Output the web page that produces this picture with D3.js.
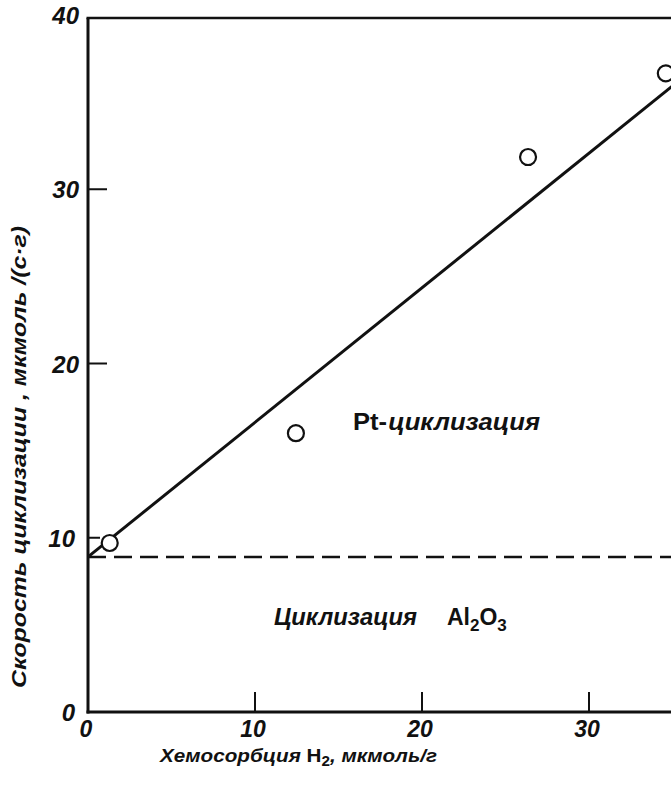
<!DOCTYPE html>
<html>
<head>
<meta charset="utf-8">
<script src="https://cdn.jsdelivr.net/npm/d3@7"></script>
<style>
  html, body { margin: 0; padding: 0; background: #fff; }
  svg { display: block; }
  text { font-family: "Liberation Sans", Arial, sans-serif; fill: #111; }
</style>
</head>
<body>
<svg id="chart" width="671" height="785"></svg>
<script>
// Data
const pointsX = [1.3, 12.45, 26.35, 34.6];
const pointsY = [9.7, 16.0, 31.85, 36.65];
const fitX = [0, 36];
const fitY = [8.9, 36.7];
const al2o3Level = 8.9;
const xTicks = [0, 10, 20, 30];
const yTicks = [0, 10, 20, 30, 40];

const svg = d3.select("#chart");
const W = 671, H = 785;
const x = d3.scaleLinear().domain([0, 10]).range([88, 255]);
const y = d3.scaleLinear().domain([0, 40]).range([712, 15]);
const ink = "#111";

svg.append("defs").append("clipPath").attr("id", "plot")
  .append("rect").attr("x", 88).attr("y", 0).attr("width", W - 88).attr("height", 712);

// axes lines
svg.append("line").attr("x1", x(0)).attr("x2", x(0)).attr("y1", 18).attr("y2", y(0) + 1.5)
  .attr("stroke", ink).attr("stroke-width", 3);
svg.append("line").attr("x1", x(0) - 1.5).attr("x2", W).attr("y1", y(0)).attr("y2", y(0))
  .attr("stroke", ink).attr("stroke-width", 3);
svg.append("line").attr("x1", x(0) - 1.5).attr("x2", W).attr("y1", 18).attr("y2", 18)
  .attr("stroke", ink).attr("stroke-width", 2.5);

// x ticks (inward)
svg.selectAll(".xt").data(xTicks.filter(d => d > 0)).enter().append("line")
  .attr("x1", d => x(d)).attr("x2", d => x(d)).attr("y1", y(0)).attr("y2", y(0) - 20)
  .attr("stroke", ink).attr("stroke-width", 2);
svg.selectAll(".xl").data(xTicks).enter().append("text")
  .attr("x", d => x(d) - 2).attr("y", y(0) + 25)
  .attr("text-anchor", "middle").attr("font-size", 23).attr("font-weight", "bold").attr("font-style", "italic")
  .text(d => d);

// y ticks (inward)
svg.selectAll(".yt").data(yTicks.filter(d => d > 0 && d < 40)).enter().append("line")
  .attr("x1", x(0)).attr("x2", d => d === 10 ? x(0) + 12 : x(0) + 19)
  .attr("y1", d => y(d)).attr("y2", d => y(d))
  .attr("stroke", ink).attr("stroke-width", 2);
svg.selectAll(".yl").data(yTicks).enter().append("text")
  .attr("x", d => (d === 0 || d === 10) ? 75 : 79).attr("y", d => y(d) + 9)
  .attr("text-anchor", "end").attr("font-size", 24).attr("font-weight", "bold").attr("font-style", "italic")
  .text(d => d);

const g = svg.append("g").attr("clip-path", "url(#plot)");

// dashed Al2O3 level
g.append("line").attr("x1", x(0)).attr("x2", W).attr("y1", y(al2o3Level)).attr("y2", y(al2o3Level))
  .attr("stroke", ink).attr("stroke-width", 2.5).attr("stroke-dasharray", "18,8");

// fit line
g.append("path").datum(fitX.map((d, i) => [d, fitY[i]]))
  .attr("d", d3.line().x(d => x(d[0])).y(d => y(d[1])))
  .attr("fill", "none").attr("stroke", ink).attr("stroke-width", 3);

// points
const pts = pointsX.map((d, i) => [d, pointsY[i]]);
svg.append("g").selectAll("circle").data(pts).enter().append("circle")
  .attr("cx", d => x(d[0])).attr("cy", d => y(d[1])).attr("r", 8)
  .attr("fill", "#fff").attr("stroke", ink).attr("stroke-width", 2.2);

// annotations
const t1 = svg.append("text").attr("x", 353).attr("y", 430).attr("font-size", 23).attr("font-weight", "bold")
  .attr("textLength", 187).attr("lengthAdjust", "spacingAndGlyphs");
t1.append("tspan").text("Pt-");
t1.append("tspan").attr("font-style", "italic").attr("dx", 1).text("циклизация");

const t2 = svg.append("text").attr("x", 274).attr("y", 625).attr("font-size", 23).attr("font-weight", "bold");
t2.append("tspan").attr("font-style", "italic").attr("textLength", 143).attr("lengthAdjust", "spacingAndGlyphs").text("Циклизация");
t2.append("tspan").attr("x", 447).text("Al");
t2.append("tspan").attr("font-size", 17).attr("dy", 6).text("2");
t2.append("tspan").attr("dy", -6).text("O");
t2.append("tspan").attr("font-size", 17).attr("dy", 6).text("3");

// axis titles
const xt = svg.append("text").attr("x", 160).attr("y", 762).attr("font-size", 19)
  .attr("font-weight", "bold").attr("font-style", "italic")
  .attr("textLength", 277).attr("lengthAdjust", "spacingAndGlyphs");
xt.append("tspan").text("Хемосорбция ");
xt.append("tspan").attr("font-style", "normal").text("H");
xt.append("tspan").attr("font-size", 14).attr("dy", 4).attr("font-style", "normal").text("2");
xt.append("tspan").attr("dy", -4).text(", мкмоль/г");

svg.append("text").attr("transform", "translate(26,457) rotate(-90)")
  .attr("text-anchor", "middle").attr("font-size", 20).attr("font-weight", "bold").attr("font-style", "italic")
  .attr("textLength", 462).attr("lengthAdjust", "spacingAndGlyphs")
  .text("Скорость  циклизации ,  мкмоль /(с·г)");
</script>
</body>
</html>
